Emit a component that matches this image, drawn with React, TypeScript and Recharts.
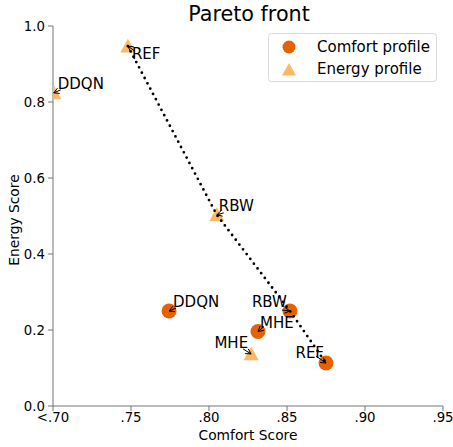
import { ScatterChart, Scatter, XAxis, YAxis } from 'recharts';

const LABELS = ['DDQN', 'RBW', 'MHE', 'REF'];
const COMFORT_X = [0.7744, 0.8519, 0.8314, 0.875];
const COMFORT_Y = [0.25, 0.25, 0.196, 0.113];
const ENERGY_X = [0.7005, 0.805, 0.827, 0.748];
const ENERGY_Y = [0.824, 0.503, 0.137, 0.947];
const X_TICKS = [0.7, 0.75, 0.8, 0.85, 0.9, 0.95];
const Y_TICKS = [0, 0.2, 0.4, 0.6, 0.8, 1.0];
// pareto front, in drawing order
const FRONT = [['energy', 'REF'], ['energy', 'RBW'], ['comfort', 'RBW'], ['comfort', 'REF']];

const COMFORT_COLOR = '#e66101';
const ENERGY_COLOR = '#fdb863';
const FONT = '"DejaVu Sans", sans-serif';

type Pt = { x: number; y: number; name: string; series: string };

const comfortData: Pt[] = LABELS.map((name, i) => ({ x: COMFORT_X[i], y: COMFORT_Y[i], name, series: 'comfort' }));
const energyData: Pt[] = LABELS.map((name, i) => ({ x: ENERGY_X[i], y: ENERGY_Y[i], name, series: 'energy' }));
const frontData: Pt[] = FRONT.map(([s, n]) =>
  (s === 'comfort' ? comfortData : energyData).find(p => p.name === n)!
);

// text offset (dx, dy), anchor, and arrow tail offset (tx, ty) from the point
const NOTE_POS: Record<string, { dx: number; dy: number; anchor: 'start' | 'end'; tx: number; ty: number }> = {
  'comfort-DDQN': { dx: 4, dy: -4, anchor: 'start', tx: 7, ty: -3 },
  'comfort-RBW': { dx: -3, dy: -4, anchor: 'end', tx: -8, ty: -1 },
  'comfort-MHE': { dx: 2, dy: -4, anchor: 'start', tx: 6, ty: -5 },
  'comfort-REF': { dx: -2, dy: -5, anchor: 'end', tx: -10, ty: -7 },
  'energy-DDQN': { dx: 4, dy: -4, anchor: 'start', tx: 7, ty: -3 },
  'energy-RBW': { dx: 2, dy: -4, anchor: 'start', tx: 7, ty: -2 },
  'energy-MHE': { dx: -3, dy: -6, anchor: 'end', tx: -8, ty: -5 },
  'energy-REF': { dx: 4, dy: 13, anchor: 'start', tx: 7, ty: 5 },
};

function Circle(props: any) {
  const { cx, cy } = props;
  return <circle cx={cx} cy={cy} r={7.5} fill={COMFORT_COLOR} />;
}

function Triangle(props: any) {
  const { cx, cy } = props;
  const h = 7.5;
  return (
    <polygon
      points={`${cx},${cy - h} ${cx - h},${cy + h * 0.85} ${cx + h},${cy + h * 0.85}`}
      fill={ENERGY_COLOR}
    />
  );
}

function Note(props: any) {
  const { cx, cy, payload } = props;
  const p = NOTE_POS[`${payload.series}-${payload.name}`];
  if (!p) return <g />;
  const x0 = cx + p.tx;
  const y0 = cy + p.ty;
  const ang = Math.atan2(cy - y0, cx - x0);
  const h = 6;
  const a1 = ang + Math.PI - 0.5;
  const a2 = ang + Math.PI + 0.5;
  return (
    <g>
      <line x1={x0} y1={y0} x2={cx} y2={cy} stroke="#000" strokeWidth={1} />
      <polyline
        points={`${cx + h * Math.cos(a1)},${cy + h * Math.sin(a1)} ${cx},${cy} ${cx + h * Math.cos(a2)},${cy + h * Math.sin(a2)}`}
        fill="none"
        stroke="#000"
        strokeWidth={1}
      />
      <text x={cx + p.dx} y={cy + p.dy} textAnchor={p.anchor} fontSize={15} fontFamily={FONT} fill="#000">
        {payload.name}
      </text>
    </g>
  );
}

export default function App() {
  const tickStyle = { fill: '#000', fontSize: 13.3, fontFamily: FONT };
  return (
    <div style={{ position: 'absolute', left: 0, top: 0, width: 453, height: 447, background: '#fff' }}>
      <ScatterChart width={453} height={447} margin={{ top: 26, right: 10, bottom: 11, left: 13 }}>
        <XAxis
          type="number"
          dataKey="x"
          domain={[0.7, 0.95]}
          ticks={X_TICKS}
          interval={0}
          allowDataOverflow
          height={30}
          tickSize={5}
          tickMargin={2}
          axisLine={{ stroke: '#777' }}
          tickLine={{ stroke: '#777' }}
          tick={tickStyle}
          tickFormatter={(v: number) => (v <= 0.7 ? '<.70' : v.toFixed(2).slice(1))}
        />
        <YAxis
          type="number"
          dataKey="y"
          domain={[0, 1]}
          ticks={Y_TICKS}
          interval={0}
          width={40}
          tickSize={5}
          tickMargin={3}
          axisLine={{ stroke: '#777' }}
          tickLine={{ stroke: '#777' }}
          tick={tickStyle}
          tickFormatter={(v: number) => v.toFixed(1)}
        />
        <Scatter data={comfortData} shape={Circle} isAnimationActive={false} />
        <Scatter data={energyData} shape={Triangle} isAnimationActive={false} />
        <Scatter
          data={frontData}
          shape={() => <g />}
          line={{ stroke: '#000', strokeWidth: 2.8, strokeDasharray: '0 6', strokeLinecap: 'round', fill: 'none' }}
          lineType="joint"
          isAnimationActive={false}
        />
        <Scatter data={comfortData} shape={Note} isAnimationActive={false} />
        <Scatter data={energyData} shape={Note} isAnimationActive={false} />
      </ScatterChart>
      <svg
        width={453}
        height={447}
        style={{ position: 'absolute', left: 0, top: 0, pointerEvents: 'none' }}
        fontFamily={FONT}
      >
        <text x={249} y={21} textAnchor="middle" fontSize={20.7} fill="#000">Pareto front</text>
        <text x={248} y={440} textAnchor="middle" fontSize={13.8} fill="#000">Comfort Score</text>
        <text x={19} y={220} textAnchor="middle" fontSize={13.8} fill="#000" transform="rotate(-90 19 220)">
          Energy Score
        </text>
        <rect x={268.5} y={33.5} width={168} height={48} rx={3} fill="#fff" fillOpacity={0.8} stroke="#d9d9d9" />
        <circle cx={289} cy={47} r={6.5} fill={COMFORT_COLOR} />
        <polygon points="289,63 282,75.5 296,75.5" fill={ENERGY_COLOR} />
        <text x={317} y={52} fontSize={15} fill="#000">Comfort profile</text>
        <text x={317} y={74} fontSize={15} fill="#000">Energy profile</text>
      </svg>
    </div>
  );
}
